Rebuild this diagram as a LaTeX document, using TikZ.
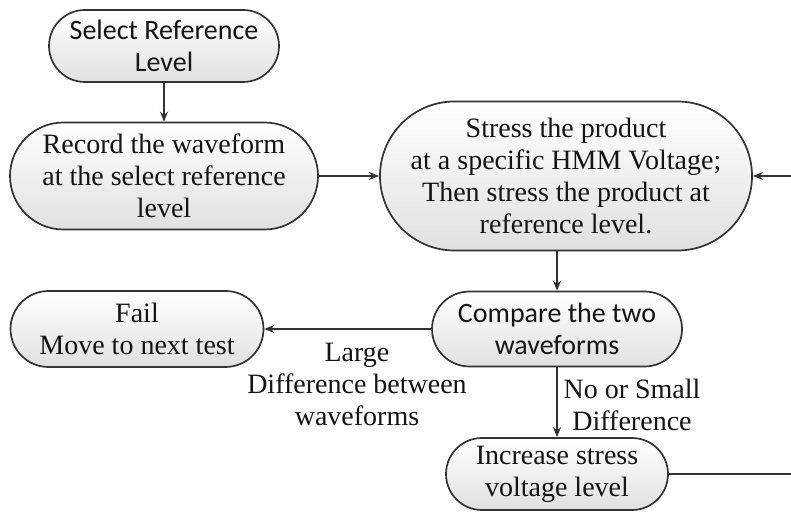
\documentclass[tikz,border=0pt]{standalone}
\usepackage{fontspec}
\setmainfont{Liberation Serif}
\newfontfamily\calfont{Carlito}
\usepackage{xcolor}
\definecolor{cLine}{HTML}{333333}
\definecolor{cText}{HTML}{141414}
\usepackage{tikz}
\usetikzlibrary{positioning,arrows.meta,shapes.misc,calc}
\tikzset{
  node-term/.style={draw=cLine,line width=0.85pt,rounded rectangle,
    rounded rectangle arc length=180,inner sep=0pt,align=center,
    top color=white,bottom color=black!12,text=cText,
    font=\fontsize{14}{16}\selectfont},
  node-sans/.style={font=\calfont\fontsize{14}{16}\selectfont},
  label-text/.style={align=center,text=cText,font=\fontsize{14}{16}\selectfont},
  arrow/.style={-{Stealth[length=5pt,width=4pt]},line width=0.85pt,draw=cLine},
}

\begin{document}
\begin{tikzpicture}[x=0.5pt,y=-0.5pt]
  \useasboundingbox (0,0) rectangle (791,512);
  % start and measurement
  \node[node-term,node-sans,minimum width=115pt,minimum height=36pt] (sel) at (164,46)
    {Select Reference\\Level};
  \node[node-term,minimum width=154pt,minimum height=53.5pt] (rec) at (164,176)
    {Record the waveform\\at the select reference\\level};
  \node[node-term,minimum width=186pt,minimum height=74.5pt] (str) at (566,176)
    {Stress the product\\at a specific HMM Voltage;\\Then stress the product at\\reference level.};
  % decision and outcomes
  \node[node-term,node-sans,minimum width=125pt,minimum height=37.5pt] (cmp) at (557,329)
    {Compare the two\\waveforms};
  \node[node-term,minimum width=126.5pt,minimum height=38pt] (fail) at (137,329)
    {Fail\\Move to next test};
  \node[node-term,minimum width=111pt,minimum height=36pt] (inc) at (557,474)
    {Increase stress\\voltage level};
  \node[label-text] (lbl-large) at (357,384) {Large\\Difference between\\waveforms};
  \node[label-text] (lbl-small) at (632,405) {No or Small\\Difference};
  \coordinate (loop-r) at (830,474);

  \draw[arrow] (sel.south) -- (rec.north);
  \draw[arrow] (rec.east) -- (str.west);
  \draw[arrow] (cmp.north |- str.south) -- (cmp.north);
  \draw[arrow] (cmp.west) -- (fail.east);
  \draw[arrow] (cmp.south) -- (inc.north);
  \draw[arrow] (inc.east) -- (loop-r) |- (str.east);
\end{tikzpicture}
\end{document}
